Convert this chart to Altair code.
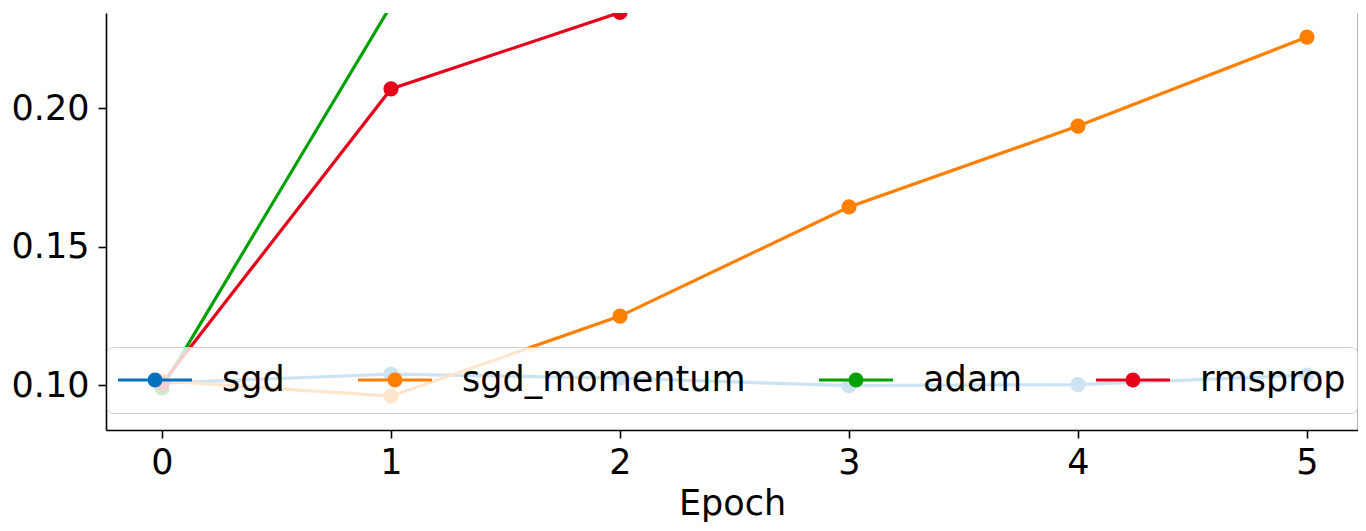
import altair as alt
import pandas as pd

epochs = [0, 1, 2, 3, 4, 5]
optimizers = ["sgd", "sgd_momentum", "adam", "rmsprop"]
sgd = [0.1007, 0.1040, 0.1025, 0.0998, 0.1002, 0.1036]
sgd_momentum = [0.1015, 0.0960, 0.1249, 0.1643, 0.1935, 0.2256]
adam = [0.0990, 0.2370, 0.3000, 0.3400, 0.3700, 0.4000]
rmsprop = [0.1005, 0.2069, 0.2345, 0.2600, 0.2800, 0.2900]
colors = ["#0072bd", "#ff7f00", "#00a000", "#e6001a"]
y_ticks = [0.10, 0.15, 0.20]

series = {"sgd": sgd, "sgd_momentum": sgd_momentum, "adam": adam, "rmsprop": rmsprop}
rows = []
for i, name in enumerate(optimizers):
    for e, v in zip(epochs, series[name]):
        rows.append({"epoch": e, "value": v, "optimizer": name, "series": name, "order": i})
df = pd.DataFrame(rows)

FONT = "DejaVu Sans"
FS = 35

x_scale = alt.Scale(domain=[-0.2445, 5.2227], nice=False, zero=False)
y_scale = alt.Scale(domain=[0.0838, 0.2343], nice=False, zero=False)
col_scale = alt.Scale(domain=optimizers, range=colors)
color_of = dict(zip(optimizers, colors))
stroke_scale = alt.Scale(range=[color_of[n] for n in sorted(optimizers)])

legend_symbol = "M-1,-0.04H1V0.04H-1Z M0.2,0A0.2,0.2,0,1,1,-0.2,0A0.2,0.2,0,1,1,0.2,0Z"

base = alt.Chart(df)

lines = base.mark_line(strokeWidth=3.2, clip=True).encode(
    x=alt.X("epoch:Q", scale=x_scale,
            axis=alt.Axis(values=epochs, format="d", title="Epoch", grid=False,
                          labelAngle=0, labelPadding=7, titlePadding=6)),
    y=alt.Y("value:Q", scale=y_scale,
            axis=alt.Axis(values=y_ticks, format=".2f", title=None, grid=False,
                          labelPadding=9)),
    stroke=alt.Stroke("series:N", scale=stroke_scale, legend=None),
    order=alt.Order("epoch:Q"),
)

points = base.mark_point(filled=True, size=230, opacity=1, clip=True).encode(
    x=alt.X("epoch:Q", scale=x_scale),
    y=alt.Y("value:Q", scale=y_scale,
            axis=alt.Axis(orient="right", labels=False, ticks=False, domain=True,
                          grid=False, title=None)),
    color=alt.Color(
        "optimizer:N", scale=col_scale,
        legend=alt.Legend(
            title=None, orient="none", legendX=1, legendY=334,
            direction="horizontal", columns=4, columnPadding=73, rowPadding=0,
            symbolType=legend_symbol, symbolSize=5476, symbolStrokeWidth=0,
            symbolOpacity=1, clipHeight=44, labelOffset=30, labelLimit=500,
            labelFont=FONT, labelFontSize=FS, labelColor="#000000",
            fillColor="rgba(255,255,255,0.8)", strokeColor="#cccccc",
            cornerRadius=6, padding=11,
        ),
    ),
)

chart = alt.layer(lines, points).resolve_axis(y="independent").properties(
    width=1252, height=417,
    autosize=alt.AutoSizeParams(type="none"),
    padding={"left": 98, "top": 5, "right": 0, "bottom": 93},
).configure_view(stroke=None).configure_axis(
    labelFont=FONT, labelFontSize=FS, labelColor="#000000",
    titleFont=FONT, titleFontSize=FS, titleFontWeight="normal", titleColor="#000000",
    domainColor="#000000", domainWidth=1.6, tickColor="#000000", tickWidth=1.6,
    tickSize=8,
)

chart.save("out.html", embed_options={"renderer": "svg", "actions": False})
